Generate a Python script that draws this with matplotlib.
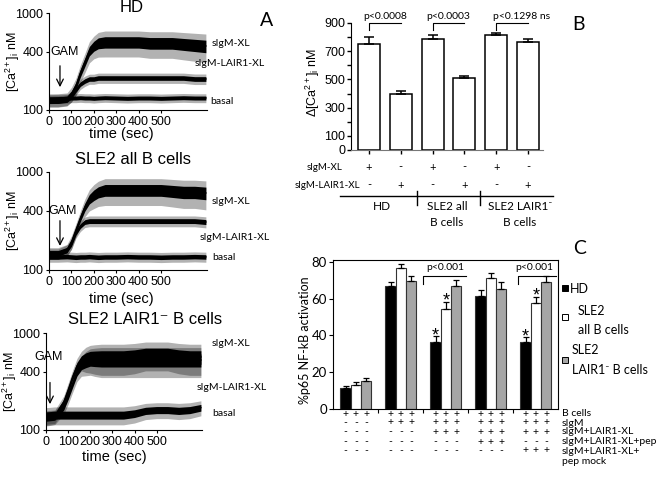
import numpy as np
import matplotlib
matplotlib.use('Agg')
import matplotlib.pyplot as plt
from matplotlib.patches import Rectangle
from matplotlib.ticker import NullLocator
from matplotlib.transforms import blended_transform_factory

plt.rcParams['font.family'] = ['Liberation Sans', 'DejaVu Sans']
plt.rcParams['mathtext.fontset'] = 'custom'
plt.rcParams['mathtext.rm'] = 'Liberation Sans'
plt.rcParams['mathtext.it'] = 'Liberation Sans:italic'
CAL = ['Lato', 'DejaVu Sans']

# %%
# panel A: calcium traces (mean level and noise half-range, nM)
t_sec = [0, 40, 80, 100, 120, 140, 160, 180, 200, 220, 250, 300, 350, 400, 450, 500, 550, 600, 650, 700]

hd_xl = [127, 127, 130, 146, 177, 241, 312, 406, 457, 491, 502, 502, 502, 502, 491, 491, 491, 479, 468, 457]
hd_xl_sp = [20, 20, 20, 25, 35, 50, 70, 100, 120, 140, 150, 150, 150, 150, 150, 150, 150, 150, 150, 150]
hd_lair = [124, 124, 127, 139, 161, 185, 199, 209, 209, 214, 214, 214, 214, 214, 214, 214, 214, 214, 209, 209]
hd_lair_sp = [16, 16, 16, 18, 20, 22, 24, 25, 25, 26, 26, 26, 26, 26, 26, 26, 26, 26, 26, 26]
hd_basal = [130, 131, 132, 133, 133, 134, 133, 133, 132, 133, 134, 133, 132, 133, 133, 132, 133, 134, 133, 133]
hd_basal_sp = [14, 14, 14, 14, 14, 14, 14, 14, 14, 14, 14, 14, 14, 14, 14, 14, 14, 14, 14, 14]

sa_xl = [149, 149, 160, 193, 256, 339, 439, 530, 583, 625, 655, 655, 655, 655, 655, 655, 640, 625, 625, 611]
sa_xl_sp = [20, 20, 22, 30, 40, 60, 90, 130, 160, 180, 200, 200, 200, 200, 200, 200, 200, 200, 200, 200]
sa_lair = [146, 146, 160, 184, 239, 281, 309, 316, 316, 316, 316, 316, 316, 316, 316, 316, 316, 316, 316, 309]
sa_lair_sp = [18, 18, 20, 22, 28, 34, 38, 40, 40, 40, 40, 40, 40, 40, 40, 40, 40, 40, 40, 40]
sa_basal = [136, 136, 137, 136, 135, 136, 136, 137, 136, 135, 136, 136, 137, 136, 136, 135, 136, 136, 137, 136]
sa_basal_sp = [16, 16, 16, 16, 16, 16, 16, 16, 16, 16, 16, 16, 16, 16, 16, 16, 16, 16, 16, 16]

sl_xl = [136, 139, 194, 258, 352, 457, 527, 552, 566, 566, 566, 566, 566, 580, 607, 607, 607, 580, 566, 566]
sl_xl_sp = [22, 22, 30, 45, 60, 90, 120, 160, 180, 190, 200, 200, 200, 200, 200, 200, 200, 200, 200, 200]
sl_lair = [133, 136, 173, 224, 298, 396, 468, 502, 527, 527, 527, 527, 527, 527, 527, 527, 527, 527, 527, 527]
sl_lair_sp = [22, 22, 28, 40, 55, 80, 110, 140, 160, 170, 180, 180, 180, 180, 180, 180, 180, 180, 180, 180]
sl_basal = [140, 143, 143, 143, 143, 143, 143, 143, 143, 143, 143, 143, 143, 148, 158, 161, 161, 158, 161, 170]
sl_basal_sp = [30, 30, 30, 30, 30, 30, 30, 30, 30, 30, 30, 30, 30, 30, 30, 30, 30, 30, 30, 30]

a_titles = ['HD', 'SLE2 all B cells', 'SLE2 LAIR1\u207b B cells']
trace_names = ['sIgM-XL', 'sIgM-LAIR1-XL', 'basal']

# panel B: delta Ca
b_vals = [752, 395, 785, 508, 816, 768]
b_err = [51, 23, 31, 17, 12, 19]
b_xl = ['+', '-', '+', '-', '+', '-']
b_lair = ['-', '+', '-', '+', '-', '+']
b_pvals = ['p<0.0008', 'p<0.0003', 'p<0.1298 ns']

# panel C: NF-kB activation
c_hd = [11.2, 66.6, 36.4, 61.6, 36.4]
c_hd_err = [1.4, 2.2, 3.2, 3.3, 2.7]
c_all = [13.0, 76.6, 54.1, 71.2, 57.7]
c_all_err = [1.8, 2.3, 4.1, 3.0, 3.2]
c_neg = [15.1, 69.7, 66.6, 65.4, 68.8]
c_neg_err = [2.0, 2.4, 3.7, 3.4, 3.6]
c_rows = ['B cells', 'sIgM', 'sIgM+LAIR1-XL', 'sIgM+LAIR1-XL+pep', 'sIgM+LAIR1-XL+']
c_table = [
    '+++ +++ +++ +++ +++',
    '--- +++ +++ +++ +++',
    '--- --- +++ +++ +++',
    '--- --- --- +++ ---',
    '--- --- --- --- +++',
]

# %%
W, H = 662, 484
fig = plt.figure(figsize=(W / 100, H / 100), dpi=100)


def box(left, top, w, h):
    return fig.add_axes([left / W, 1 - (top + h) / H, w / W, h / H])


def ftext(x, y, s, **kw):
    fig.text(x / W, 1 - y / H, s, **kw)


def trace(ax, mean, spread):
    m = np.array(mean, dtype=float)
    s = np.array(spread, dtype=float)
    ax.fill_between(t_sec, m - s, m + s, color='black', alpha=0.3, lw=0)
    ax.fill_between(t_sec, m - s * 0.45, m + s * 0.45, color='black', lw=0)
    ax.plot(t_sec, m, color='black', lw=1)


a_setup = [
    dict(rect=(49, 13, 158, 97), tr=[(hd_xl, hd_xl_sp), (hd_lair, hd_lair_sp), (hd_basal, hd_basal_sp)],
         gam=(49, 305, 161, 71, 396), title=(132, 8), lab=[(212, 43), (195, 63), (210, 101)],
         ylab=22, xlab=(0.46, -0.175)),
    dict(rect=(49, 172, 158, 98), tr=[(sa_xl, sa_xl_sp), (sa_lair, sa_lair_sp), (sa_basal, sa_basal_sp)],
         gam=(49, 340, 165, 62, 400), title=(133, 160), lab=[(212, 202), (200, 238), (212, 257)],
         ylab=22, xlab=(0.46, -0.22)),
    dict(rect=(46, 333, 156, 97), tr=[(sl_xl, sl_xl_sp), (sl_lair, sl_lair_sp), (sl_basal, sl_basal_sp)],
         gam=(18, 330, 173, 12, 560), title=(145, 320), lab=[(212, 343), (197, 387), (212, 413)],
         ylab=19.5, xlab=(0.44, -0.21)),
]

for i, cfg in enumerate(a_setup):
    ax = box(*cfg['rect'])
    for mean, spread in cfg['tr']:
        trace(ax, mean, spread)
    ax.set_yscale('log')
    ax.set_ylim(100, 1000)
    ax.set_xlim(0, 705)
    ax.set_yticks([100, 400, 1000])
    ax.set_yticklabels(['100', '400', '1000'])
    ax.yaxis.set_minor_locator(NullLocator())
    ax.set_xticks([0, 100, 200, 300, 400, 500])
    ax.tick_params(labelsize=9, length=2, pad=2, width=0.8)
    for side in ['top', 'right']:
        ax.spines[side].set_visible(False)
    ax.set_ylabel(r'[Ca$^{2+}$]$_\mathrm{i}$ nM', fontsize=9)
    ax.yaxis.set_label_coords((cfg['ylab'] - cfg['rect'][0]) / cfg['rect'][2], 0.5)
    ax.set_xlabel('time (sec)', fontsize=10.5)
    ax.xaxis.set_label_coords(*cfg['xlab'])
    tg, v0, v1, tx, vy = cfg['gam']
    ax.annotate('', xy=(tg, v1), xytext=(tg, v0),
                arrowprops=dict(arrowstyle='->', lw=0.9, color='black', mutation_scale=12))
    ax.text(tx, vy, 'GAM', ha='center', va='center', fontsize=9)
    ftext(*cfg['title'], a_titles[i], ha='center', va='center', fontsize=12)
    for (lx, ly), name in zip(cfg['lab'], trace_names):
        ftext(lx, ly, name, ha='left', va='center', fontsize=7.5, family=CAL)

ftext(267, 20, 'A', ha='center', va='center', fontsize=14, family=CAL)

# %%
# panel B
axb = box(351, 23, 192, 127)
b_pos = np.arange(len(b_vals))
axb.bar(b_pos, b_vals, width=0.69, color='white', edgecolor='black', lw=1.1)
axb.errorbar(b_pos, b_vals, yerr=[np.zeros(len(b_err)), b_err], fmt='none', ecolor='black',
             elinewidth=1.1, capsize=3.6, capthick=1.1)
axb.set_xlim(-0.566, 5.47)
axb.set_ylim(0, 900)
axb.set_yticks(range(0, 1000, 100))
axb.set_yticklabels(['0', '100', '', '300', '', '500', '', '700', '', '900'])
axb.set_xticks(b_pos)
axb.set_xticklabels([])
axb.tick_params(axis='y', labelsize=9, length=3, pad=1, width=1)
axb.tick_params(axis='x', length=3, width=1)
for side in ['top', 'right']:
    axb.spines[side].set_visible(False)
axb.spines['bottom'].set_color('#777777')
axb.set_ylabel('\u0394[Ca$^{2+}$]$_\\mathrm{i}$ nM', fontsize=9)
axb.yaxis.set_label_coords((322 - 351) / 192, 0.53)

for k, p in enumerate(b_pvals):
    x0 = b_pos[2 * k]
    x1 = b_pos[2 * k + 1]
    axb.plot([x0, x0, x1], [850, 900, 900], color='black', lw=0.8, clip_on=False)
    if k < 2:
        axb.text((x0 + x1) / 2, 945, p, ha='center', va='center', fontsize=7.5, family=CAL)
    else:
        axb.text(x0 - 0.1, 945, p, ha='left', va='center', fontsize=7.5, family=CAL)

tb = blended_transform_factory(axb.transData, axb.transAxes)
for x, s1, s2 in zip(b_pos, b_xl, b_lair):
    axb.text(x, (150 - 167) / 127, s1, transform=tb, ha='center', va='center', fontsize=8, family=CAL)
    axb.text(x, (150 - 185) / 127, s2, transform=tb, ha='center', va='center', fontsize=8, family=CAL)
axb.text(-0.82, (150 - 167) / 127, 'sIgM-XL', transform=tb, ha='right', va='center', fontsize=7, family=CAL)
axb.text(-0.28, (150 - 185) / 127, 'sIgM-LAIR1-XL', transform=tb, ha='right', va='center', fontsize=7,
         family=CAL)
yline = (150 - 196) / 127
axb.plot([-0.91, 5.79], [yline, yline], transform=tb, color='black', lw=1, clip_on=False)
for xs in [1.5, 3.5]:
    axb.plot([xs, xs], [(150 - 191) / 127, (150 - 205) / 127], transform=tb, color='black', lw=1,
             clip_on=False)
group_labels = [(0.4, ['HD']), (2.45, ['SLE2 all', 'B cells']), (4.75, ['SLE2 LAIR1\u207b', 'B cells'])]
for gx, lines in group_labels:
    for j, line in enumerate(lines):
        axb.text(gx, (150 - (206 + 16 * j)) / 127, line, transform=tb, ha='center', va='center',
                 fontsize=8.5, family=CAL)

ftext(578, 25, 'B', ha='center', va='center', fontsize=14, family=CAL)

# %%
# panel C
axc = box(333, 260, 225, 149)
g = np.arange(len(c_hd))
bw = 0.23
series = [(c_hd, c_hd_err, 'black'), (c_all, c_all_err, 'white'), (c_neg, c_neg_err, '#a6a6a6')]
for j, (vals, err, col) in enumerate(series):
    xs = g + (j - 1) * bw
    axc.bar(xs, vals, width=bw, color=col, edgecolor='#333333', lw=0.8)
    axc.errorbar(xs, vals, yerr=[np.zeros(len(err)), err], fmt='none', ecolor='black',
                 elinewidth=0.9, capsize=2.2, capthick=0.9)
axc.set_xlim(-0.51, 4.49)
axc.set_ylim(0, 81)
axc.set_yticks([0, 20, 40, 60, 80])
axc.set_xticks([0.5, 1.5, 2.5, 3.5])
axc.set_xticklabels([])
axc.tick_params(axis='y', labelsize=9.5, length=3, pad=1.5, width=0.8)
axc.tick_params(axis='x', length=3, width=0.8)
for lbl in axc.get_yticklabels():
    lbl.set_fontfamily(CAL)
for sp in axc.spines.values():
    sp.set_linewidth(0.8)
axc.set_ylabel('%p65 NF-kB activation', fontsize=9, family=CAL)
axc.yaxis.set_label_coords((311 - 333) / 225, 0.46)

# significance stars on the peptide-treated groups
for gi in [2, 4]:
    axc.text(gi - bw, c_hd[gi] + c_hd_err[gi] + 0.3, '*', ha='center', va='center', fontsize=13)
    axc.text(gi, c_all[gi] + c_all_err[gi] + 0.3, '*', ha='center', va='center', fontsize=13)

for x0, x1, xt in [(1.5, 2.45, 1.98), (3.6, 4.45, 3.96)]:
    axc.plot([x0, x0, x1], [68, 72.5, 72.5], color='black', lw=0.8)
    axc.text(xt, 76.7, 'p<0.001', ha='center', va='center', fontsize=7.5, family=CAL)

# legend
leg = [((565, 288), 'black', [(570, 289, 'HD')]),
       ((565, 317), 'white', [(578, 311, 'SLE2'), (578, 330, 'all B cells')]),
       ((565, 360), '#a6a6a6', [(572, 350, 'SLE2'), (572, 370, 'LAIR1\u207b B cells')])]
for (sx, sy), col, texts in leg:
    fig.patches.append(Rectangle(((sx - 3) / W, 1 - (sy + 3) / H), 6 / W, 6 / H, facecolor=col,
                                 edgecolor='black', lw=0.7, transform=fig.transFigure, figure=fig))
    for tx, ty, s in texts:
        ftext(tx, ty, s, ha='left', va='center', fontsize=9, family=CAL)

ftext(580, 249, 'C', ha='center', va='center', fontsize=14, family=CAL)

# condition table under C
tc = blended_transform_factory(axc.transData, fig.transFigure)
row_y = [414, 423, 432, 442, 451]
for r, (pattern, ry) in enumerate(zip(c_table, row_y)):
    marks = pattern.replace(' ', '')
    for k, m in enumerate(marks):
        gx = g[k // 3] + (k % 3 - 1) * bw
        axc.text(gx, 1 - ry / H, m, transform=tc, ha='center', va='center', fontsize=7.5, family=CAL)
    ftext(562, ry, c_rows[r], ha='left', va='center', fontsize=7.5, family=CAL)
ftext(562, 461, 'pep mock', ha='left', va='center', fontsize=7.5, family=CAL)

fig.savefig('out.png', dpi=100)
